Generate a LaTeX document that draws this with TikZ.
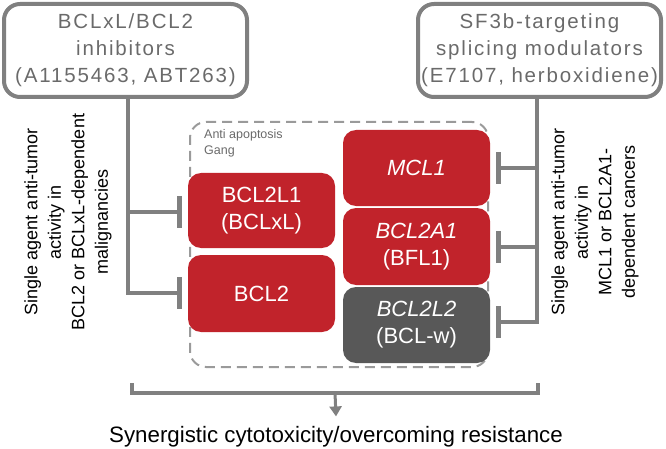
\documentclass[tikz,border=0pt]{standalone}
\usepackage{fontspec}
\setmainfont{Liberation Sans}
\newfontfamily\trackedfont[LetterSpace=9]{Liberation Sans}
\usetikzlibrary{arrows.meta}
\definecolor{linegray}{HTML}{808080}
\definecolor{boxred}{HTML}{C1232B}
\definecolor{boxdark}{HTML}{585858}
\definecolor{txtgray}{HTML}{6A6A6A}
\definecolor{dashgray}{HTML}{9A9A9A}
\begin{document}
\begin{tikzpicture}[x=1pt,y=-1pt,
 drugbox/.style={draw=linegray,line width=4pt,rounded corners=16pt,minimum width=243pt,minimum height=93pt,text=txtgray,align=center,font=\trackedfont\fontsize{20.5}{27}\selectfont,inner sep=0pt},
 genebox/.style={fill=boxred,rounded corners=13pt,minimum width=147pt,text=white,align=center,font=\fontsize{22}{27}\selectfont,inner sep=0pt},
 conn/.style={draw=linegray,line width=4pt},
 inhib/.style={conn,-{Bar[width=32pt,line width=5pt]}},
 sidetext/.style={rotate=90,align=center,font=\fontsize{18}{23.5}\selectfont},
]
\useasboundingbox (0,0) rectangle (666,449);

% drug boxes
\node[drugbox] (inhA) at (125.5,50.5) {BCLxL/BCL2\\inhibitors\\(A1155463, ABT263)};
\node[drugbox] (inhB) at (539.5,50.5) {SF3b-targeting\\splicing modulators\\(E7107, herboxidiene)};

% gang frame
\node[draw=dashgray,dash pattern=on 10pt off 6pt,line width=2pt,rounded corners=16pt,minimum width=298pt,minimum height=245pt,inner sep=0pt] (gang) at (339,244.5) {};
\node[anchor=north west,align=left,text=txtgray,font=\fontsize{12.5}{16}\selectfont,inner sep=0pt] (ganglabel) at (204,129) {Anti apoptosis\\Gang};

% gene boxes
\node[genebox,minimum height=75pt] (bclxl) at (261.5,210.5) {BCL2L1\\(BCLxL)};
\node[genebox,minimum height=77pt] (bcl2) at (261.5,293.5) {BCL2};
\node[genebox,minimum height=76pt] (mcl1) at (416.5,168) {\textit{MCL1}};
\node[genebox,minimum height=77pt] (bfl1) at (416.5,246.5) {\textit{BCL2A1}\\(BFL1)};
\node[genebox,fill=boxdark,minimum height=76pt] (bclw) at (416.5,325) {\textit{BCL2L2}\\(BCL-w)};

% left connectors
\coordinate (jl1) at (128,212);
\coordinate (jl2) at (128,293);
\draw[inhib] (inhA.south -| jl1) -- (jl2) -- ([xshift=-6pt]bcl2.west |- jl2);
\draw[inhib] (jl1) -- ([xshift=-6pt]bclxl.west |- jl1);

% right connectors
\coordinate (jr1) at (537,168);
\coordinate (jr2) at (537,247);
\coordinate (jr3) at (537,322);
\draw[inhib] (inhB.south -| jr1) -- (jr3) -- ([xshift=6pt]bclw.east |- jr3);
\draw[inhib] (jr1) -- ([xshift=6pt]mcl1.east |- jr1);
\draw[inhib] (jr2) -- ([xshift=6pt]bfl1.east |- jr2);

% side texts
\node[sidetext] (lefttext) at (68,222) {Single agent anti-tumor\\activity in\\BCL2 or BCLxL-dependent\\malignancies};
\node[sidetext] (righttext) at (595,222) {Single agent anti-tumor\\activity in\\MCL1 or BCL2A1-\\dependent cancers};

% bottom bracket and result
\coordinate (bl) at (132,383);
\coordinate (br) at (538,383);
\coordinate (bm) at (335,393);
\node[font=\fontsize{22.3}{26}\selectfont,inner sep=0pt] (result) at (336,437) {Synergistic cytotoxicity/overcoming resistance};
\draw[conn,line join=miter] (bl) -- (bl |- bm) -- (br |- bm) -- (br);
\draw[draw=linegray,line width=3pt,-{Triangle[width=12pt,length=10pt]}] (bm) -- ([yshift=10pt]result.north);
\end{tikzpicture}
\end{document}
